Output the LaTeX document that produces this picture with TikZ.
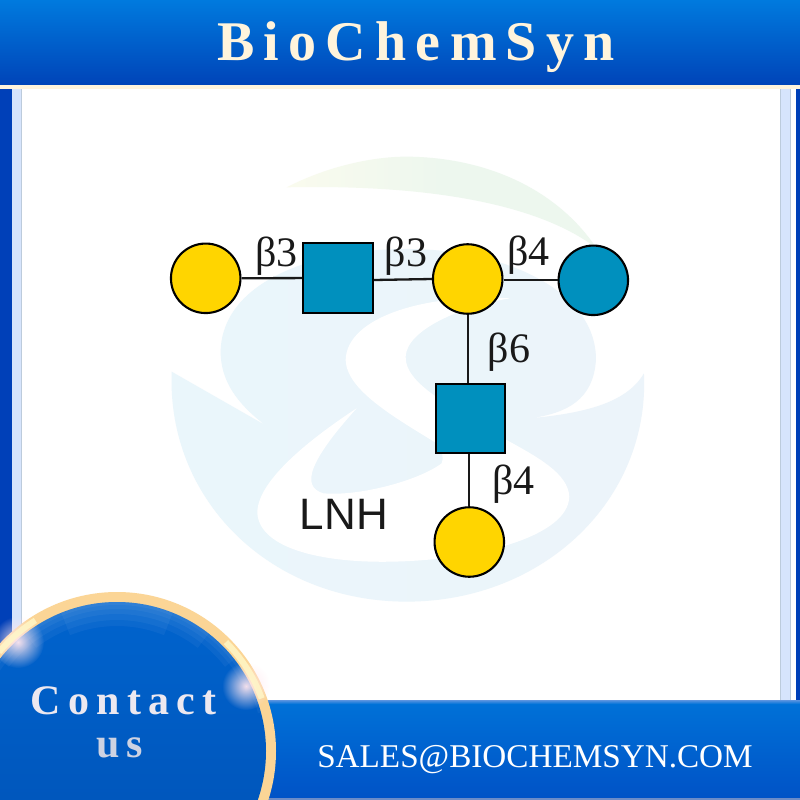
\documentclass[tikz,border=0pt]{standalone}
\usepackage{fontspec}
\setmainfont{Liberation Serif}
\newfontfamily\sansf{Liberation Sans}
\newfontfamily\spacedlogo[LetterSpace=16.5]{Liberation Serif Bold}
\newfontfamily\spacedcontact[LetterSpace=17]{Liberation Serif Bold}
\usetikzlibrary{fadings}
\definecolor{wmblue}{HTML}{EAF6FB}
\definecolor{wmblueb}{HTML}{ECF4FA}
\definecolor{wmgreen}{HTML}{EDF7EE}
\definecolor{wmgreenl}{HTML}{FAFBEE}
\definecolor{galyellow}{HTML}{FFD500}
\definecolor{glcblue}{HTML}{0090BE}
\definecolor{cream}{HTML}{FFF4DC}
\definecolor{barblue}{HTML}{0040B8}
\definecolor{barpale}{HTML}{D6E4FC}
\definecolor{bargrey}{HTML}{BCCBDC}
\definecolor{ringgold}{HTML}{FBD596}
\definecolor{headtop}{HTML}{007ADE}
\definecolor{headbot}{HTML}{0044B8}
\definecolor{bandtop}{HTML}{0072D8}
\definecolor{bandbot}{HTML}{0052C6}
\definecolor{bandedge}{HTML}{5C94E0}
\definecolor{bandfoot}{HTML}{6C8CC8}
\definecolor{discmid}{HTML}{0064CE}
\definecolor{discbot}{HTML}{0050B4}
\definecolor{ringglow}{HTML}{FFF8C8}
\definecolor{glowpink}{HTML}{FFE6EE}
\definecolor{contacttext}{HTML}{ECE8F0}
\definecolor{ustext}{HTML}{CDD2E2}
\tikzfading[name=glowfade,inner color=transparent!5,outer color=transparent!100]
\tikzset{
  sugarcirc/.style={circle,draw=black,line width=2.1pt,minimum size=69.5pt,inner sep=0pt},
  sugarsq/.style={rectangle,draw=black,line width=2.1pt,fill=glcblue,minimum size=69.5pt,inner sep=0pt},
  bond/.style={draw=black!90,line width=2.3pt},
  linkage/.style={font=\fontsize{42}{42}\selectfont,text=black!90,inner sep=0pt,anchor=base},
  glow/.style={path fading=glowfade,fill=#1},
}
\begin{document}
\begin{tikzpicture}[x=1pt,y=-1pt]
\useasboundingbox (0,0) rectangle (800,800);
\clip (0,0) rectangle (800,800);
\fill[white] (0,0) rectangle (800,800);
% watermark
\begin{scope}[shift={(160,150)},x=0.3333pt,y=-0.3333pt]
  \shade[left color=wmgreenl,right color=wmgreen,middle color=wmgreen] (380,112) .. controls (500,50) and (640,18) .. (750,20)
     .. controls (1000,25) and (1200,130) .. (1310,295)
     .. controls (1200,210) and (950,100) .. (380,112) -- cycle;
  \shade[left color=wmblue,right color=wmblueb] (35,665) -- (315,825)
     .. controls (230,760) and (180,690) .. (182,600)
     .. controls (190,400) and (450,295) .. (750,297)
     .. controls (1050,300) and (1310,430) .. (1308,630)
     .. controls (1300,750) and (1220,790) .. (1110,805)
     .. controls (1270,790) and (1400,760) .. (1452,670)
     .. controls (1470,1050) and (1150,1355) .. (740,1355)
     .. controls (330,1355) and (20,1050) .. (35,665) -- cycle;
  \fill[white] (1050,445) .. controls (800,430) and (560,500) .. (557,630)
     .. controls (560,720) and (700,800) .. (830,880)
     .. controls (850,900) and (850,930) .. (845,940)
     .. controls (780,990) and (600,1040) .. (490,1030)
     .. controls (420,1010) and (450,930) .. (590,775)
     .. controls (430,880) and (290,1000) .. (292,1090)
     .. controls (300,1200) and (500,1240) .. (700,1235)
     .. controls (950,1230) and (1225,1160) .. (1228,1040)
     .. controls (1225,970) and (1130,920) .. (1040,870)
     .. controls (900,780) and (735,710) .. (737,620)
     .. controls (740,540) and (900,470) .. (1050,445) -- cycle;
\end{scope}
% frame
\fill[barblue] (0,89) rectangle (12,700);
\fill[barblue] (796,89) rectangle (800,700);
\fill[barpale] (12,89) rectangle (22,700);
\fill[barpale] (780,89) rectangle (790.5,700);
\fill[bargrey] (21,89) rectangle (22,700);
\fill[bargrey] (780,89) rectangle (781,700);
\fill[bargrey] (789.7,89) rectangle (790.7,700);
% header
\shade[top color=headtop,bottom color=headbot] (0,0) rectangle (800,85);
\fill[cream] (0,85) rectangle (800,89);
\node[inner sep=0pt,anchor=base,text=cream] (title) at (416,60) {\fontsize{56}{56}\spacedlogo BioChemSyn};
% bottom band
\shade[top color=bandtop,bottom color=bandbot] (240,700) rectangle (800,800);
\shade[top color=bandedge,bottom color=bandtop] (240,700) rectangle (800,704);
\fill[bandfoot] (240,798) rectangle (800,800);
% contact circle
\fill[ringgold] (117,751) circle[radius=159];
\shade[top color=discmid,bottom color=discbot] (117,751) circle[radius=149];
\foreach \w/\s in {3/75,7/65,12/52,18/38,24/22}{
  \draw[white,opacity=.045,line width=\w pt] (117,751) ++(-90-\s:149-\w/2) arc[start angle=-90-\s,end angle=-90+\s,radius=149-\w/2];
}
\fill[glow=glowpink] (18,642) circle[radius=26];
\fill[glow=glowpink] (246,686) circle[radius=24];
\draw[ringglow,line width=6pt,opacity=.8] (117,751) ++(-45:154) arc[start angle=-45,end angle=-20,radius=154];
\draw[ringglow,line width=6pt,opacity=.8] (117,751) ++(-140:154) arc[start angle=-140,end angle=-122,radius=154];
\node[inner sep=0pt,anchor=base,text=contacttext] (contact) at (123.5,714) {\fontsize{42}{42}\spacedcontact Contact};
\node[inner sep=0pt,anchor=base,text=ustext] (us) at (119.5,757) {\fontsize{42}{42}\spacedcontact us};
\node[inner sep=0pt,anchor=base,text=white] (email) at (535,767) {\fontsize{33.2}{33.2}\selectfont SALES@BIOCHEMSYN.COM};
% glycan
\node[sugarcirc,fill=galyellow] (g1) at (205.7,278.3) {};
\node[sugarsq] (s1) at (338,278) {};
\node[sugarcirc,fill=galyellow] (g2) at (467.7,279) {};
\node[sugarcirc,fill=glcblue] (g3) at (593.3,280.3) {};
\node[sugarsq] (s2) at (470.3,418.3) {};
\node[sugarcirc,fill=galyellow] (g4) at (469.3,542) {};
\draw[bond] (g1) -- (s1);
\draw[bond] (s1.east) ++(0,2) -- (g2.west);
\draw[bond] (g2.east |- g3) -- (g3);
\draw[bond] (g2) -- (g2 |- s2.north);
\draw[bond] (s2.south -| g4) -- (g4);
\node[linkage] (l1) at (276.5,266) {β3};
\node[linkage] (l2) at (406,266) {β3};
\node[linkage] (l3) at (528.5,265) {β4};
\node[linkage] (l4) at (509,362) {β6};
\node[linkage] (l5) at (513.5,494) {β4};
\node[inner sep=0pt,anchor=base,text=black!90] (lnh) at (344,529) {\fontsize{44}{44}\sansf LNH};
\end{tikzpicture}
\end{document}
